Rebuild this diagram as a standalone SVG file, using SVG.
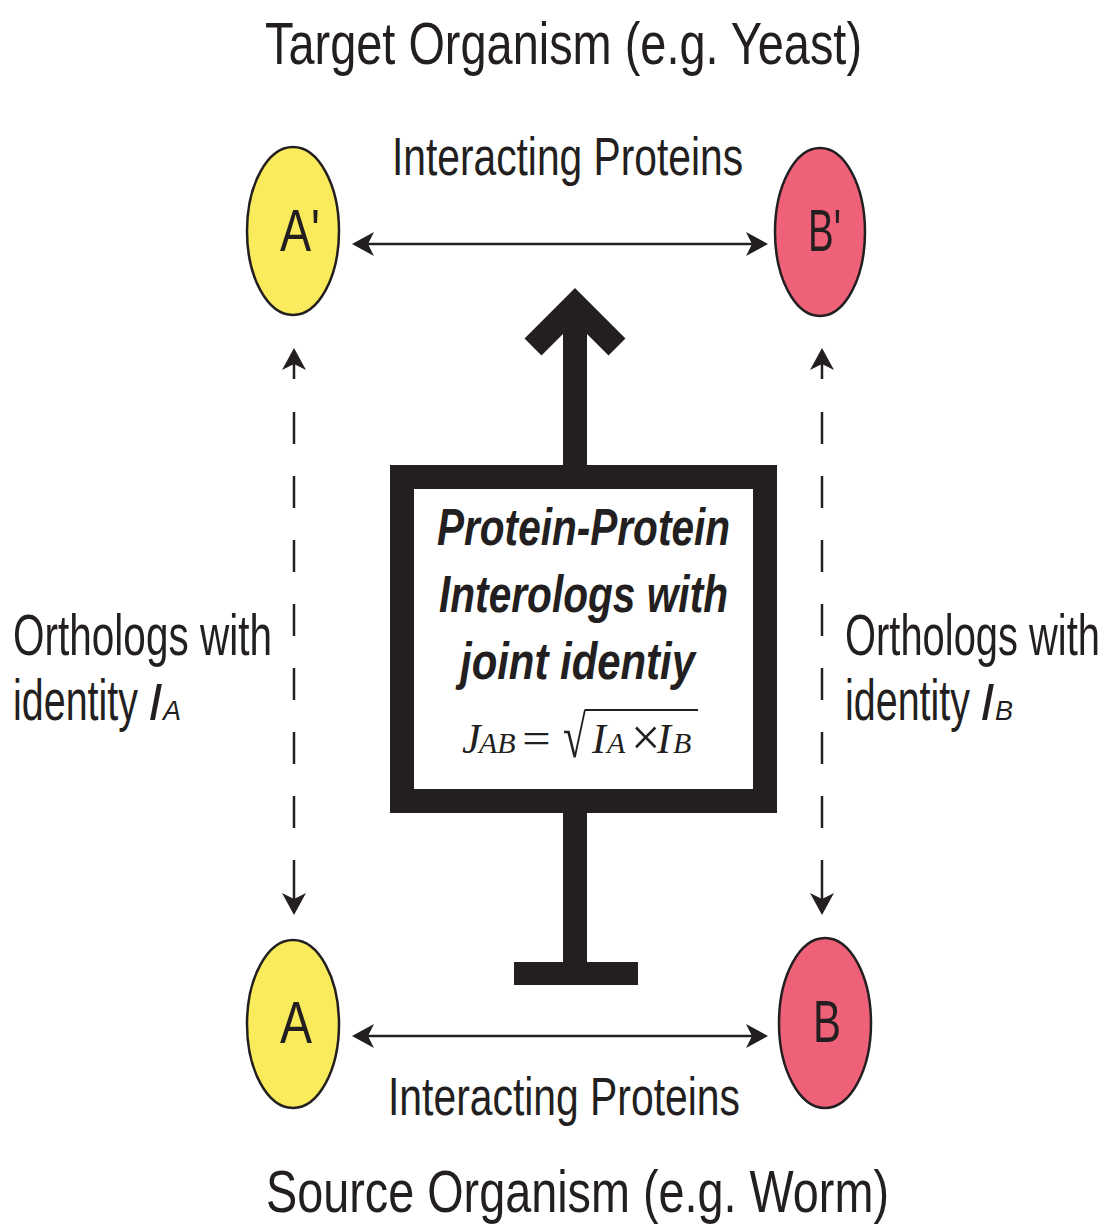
<svg xmlns="http://www.w3.org/2000/svg" width="1110" height="1226" viewBox="0 0 1110 1226">
<style>
.t{font-family:"Liberation Sans",Arial,sans-serif;fill:#231f20;}
.b{font-family:"Liberation Sans",Arial,sans-serif;font-weight:bold;font-style:italic;fill:#231f20;font-size:52px;}
.m{font-family:"Liberation Serif","Times New Roman",serif;font-style:italic;fill:#231f20;}
.ell{stroke:#231f20;stroke-width:2.5;}
.ln{stroke:#231f20;stroke-width:2.5;fill:none;}
.ah{fill:#231f20;}
.thick{fill:#231f20;}
</style>
<rect width="1110" height="1226" fill="#ffffff"/>

<text class="t" x="265" y="64" font-size="59" textLength="597" lengthAdjust="spacingAndGlyphs">Target Organism (e.g. Yeast)</text>
<text class="t" x="266" y="1212" font-size="59" textLength="623" lengthAdjust="spacingAndGlyphs">Source Organism (e.g. Worm)</text>

<g id="connectors">
  <line class="ln" x1="366" y1="244" x2="754" y2="244"/>
  <path class="ah" d="M352,244 L374,232 L368,244 L374,256 Z"/>
  <path class="ah" d="M768,244 L746,232 L752,244 L746,256 Z"/>
  <text class="t" x="392" y="175" font-size="54" textLength="351" lengthAdjust="spacingAndGlyphs">Interacting Proteins</text>
  <line class="ln" x1="366" y1="1036" x2="754" y2="1036"/>
  <path class="ah" d="M352,1036 L374,1024 L368,1036 L374,1048 Z"/>
  <path class="ah" d="M768,1036 L746,1024 L752,1036 L746,1048 Z"/>
  <text class="t" x="388" y="1115" font-size="54" textLength="352" lengthAdjust="spacingAndGlyphs">Interacting Proteins</text>
  <path class="ln" d="M294,364 V379 M294,412 V444 M294,476 V508 M294,540 V572 M294,604 V636 M294,668 V700 M294,732 V764 M294,796 V828 M294,860 V900"/>
  <path class="ah" d="M294,348 L282,370 L294,364 L306,370 Z"/>
  <path class="ah" d="M294,915 L282,893 L294,899 L306,893 Z"/>
  <path class="ln" d="M822,364 V379 M822,412 V444 M822,476 V508 M822,540 V572 M822,604 V636 M822,668 V700 M822,732 V764 M822,796 V828 M822,860 V900"/>
  <path class="ah" d="M822,348 L810,370 L822,364 L834,370 Z"/>
  <path class="ah" d="M822,915 L810,893 L822,899 L834,893 Z"/>
  <rect class="thick" x="563" y="318" width="24" height="152"/>
  <path d="M533,347 L575,305 L617,347" fill="none" stroke="#231f20" stroke-width="24" stroke-linejoin="miter" stroke-miterlimit="10"/>
  <rect class="thick" x="563" y="810" width="24" height="160"/>
  <rect class="thick" x="514" y="962" width="124" height="23"/>
</g>

<g id="label-left">
  <text class="t" x="13" y="655" font-size="58" textLength="259" lengthAdjust="spacingAndGlyphs">Orthologs with</text>
  <text class="t" y="720" font-size="58"><tspan x="13" textLength="125" lengthAdjust="spacingAndGlyphs">identity</tspan><tspan x="148" font-size="52" font-style="italic">I</tspan><tspan x="163" font-size="27" font-style="italic">A</tspan></text>
</g>
<g id="label-right">
  <text class="t" x="845" y="655" font-size="58" textLength="255" lengthAdjust="spacingAndGlyphs">Orthologs with</text>
  <text class="t" y="720" font-size="58"><tspan x="845" textLength="125" lengthAdjust="spacingAndGlyphs">identity</tspan><tspan x="980" font-size="52" font-style="italic">I</tspan><tspan x="995" font-size="27" font-style="italic">B</tspan></text>
</g>

<g id="node-Aprime">
  <ellipse class="ell" cx="293" cy="231" rx="46" ry="84" fill="#f9eb5b"/>
  <text class="t" x="280" y="251" font-size="60" textLength="40" lengthAdjust="spacingAndGlyphs">A'</text>
</g>
<g id="node-Bprime">
  <ellipse class="ell" cx="820" cy="232" rx="45" ry="84" fill="#ef6178"/>
  <text class="t" x="808" y="251" font-size="60" textLength="33" lengthAdjust="spacingAndGlyphs">B'</text>
</g>
<g id="node-A">
  <ellipse class="ell" cx="293" cy="1024" rx="46" ry="84" fill="#f9eb5b"/>
  <text class="t" x="280" y="1043" font-size="60" textLength="32" lengthAdjust="spacingAndGlyphs">A</text>
</g>
<g id="node-B">
  <ellipse class="ell" cx="825" cy="1023" rx="46" ry="85" fill="#ef6178"/>
  <text class="t" x="813" y="1042" font-size="60" textLength="28" lengthAdjust="spacingAndGlyphs">B</text>
</g>

<g id="node-box">
  <rect x="402" y="477" width="363" height="324" fill="#ffffff" stroke="#231f20" stroke-width="24"/>
  <text class="b" x="437" y="545" textLength="293" lengthAdjust="spacingAndGlyphs">Protein-Protein</text>
  <text class="b" x="439" y="612" textLength="289" lengthAdjust="spacingAndGlyphs">Interologs with</text>
  <text class="b" x="460" y="679" textLength="235" lengthAdjust="spacingAndGlyphs">joint identiy</text>
  <text class="m" y="753" font-size="42"><tspan x="462">J</tspan><tspan x="479" font-size="30">AB</tspan></text>
  <text class="m" x="519" y="753" font-size="44" font-style="normal" textLength="34" lengthAdjust="spacingAndGlyphs">=</text>
  <text class="m" x="563" y="757" font-size="60" font-style="normal" textLength="23" lengthAdjust="spacingAndGlyphs">√</text>
  <line x1="585" y1="710" x2="698" y2="710" stroke="#231f20" stroke-width="2"/>
  <text class="m" y="753" font-size="42"><tspan x="592">I</tspan><tspan x="607" font-size="30">A</tspan><tspan x="631" y="755" font-size="52" font-style="normal">×</tspan><tspan x="657" y="753">I</tspan><tspan x="673" font-size="30">B</tspan></text>
</g>
</svg>
